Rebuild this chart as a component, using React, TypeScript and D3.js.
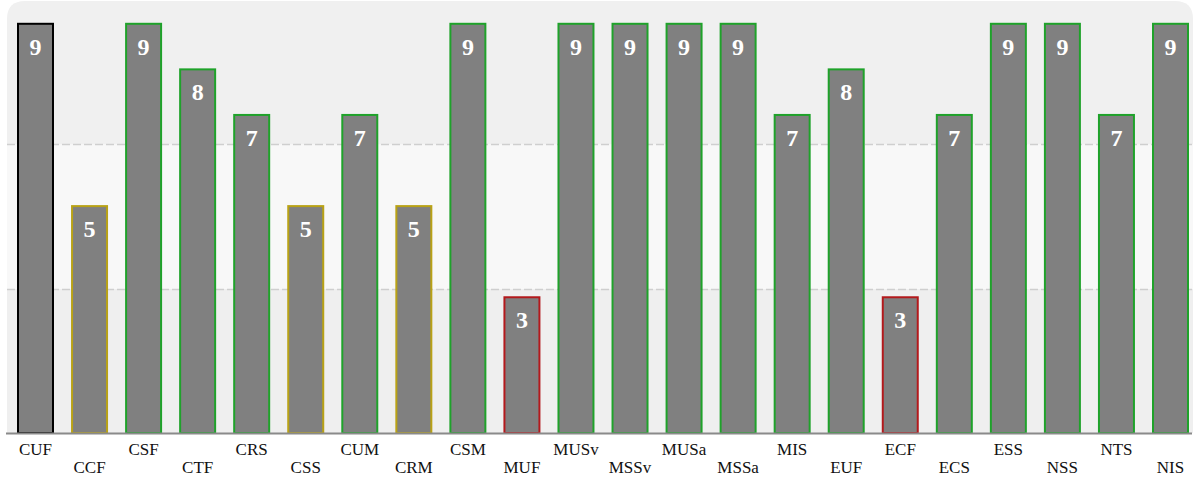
import React from "react";
import * as d3 from "d3";

const categories = [
  "CUF", "CCF", "CSF", "CTF", "CRS", "CSS", "CUM", "CRM", "CSM", "MUF", "MUSv",
  "MSSv", "MUSa", "MSSa", "MIS", "EUF", "ECF", "ECS", "ESS", "NSS", "NTS", "NIS",
];
const scores = [9, 5, 9, 8, 7, 5, 7, 5, 9, 3, 9, 9, 9, 9, 7, 8, 3, 7, 9, 9, 7, 9];
// Outline grade for each bar; the first bar is the selected one.
const grades = [
  "selected", "fair", "good", "good", "good", "fair", "good", "fair", "good", "poor", "good",
  "good", "good", "good", "good", "good", "poor", "good", "good", "good", "good", "good",
];
const scoreMax = 9.5;
const bandEdges = [0, scoreMax / 3, (2 * scoreMax) / 3, scoreMax];

const W = 1195;
const H = 477;
const plotLeft = 7;
const plotRight = 1193;
const plotTop = 0;
const plotBottom = 433;

const gradeColor: Record<string, string> = {
  selected: "#000000",
  good: "#1fa22a",
  fair: "#b9a216",
  poor: "#b3191c",
};
const bandFill = ["#efefef", "#f8f8f8", "#f0f0f0"];

export default function App() {
  const x = d3
    .scaleBand<string>()
    .domain(categories)
    .range([17, 1189])
    .paddingInner(0.3155)
    .paddingOuter(0);
  const y = d3.scaleLinear().domain([0, scoreMax]).range([plotBottom, plotTop]);

  const r = 18;
  const bgTop = 1;
  const clipPath = `M${plotLeft},${plotBottom} V${bgTop + r} Q${plotLeft},${bgTop} ${plotLeft + r},${bgTop} H${plotRight - r} Q${plotRight},${bgTop} ${plotRight},${bgTop + r} V${plotBottom} Z`;

  const serif = "'Liberation Serif', 'DejaVu Serif', 'Times New Roman', serif";

  return (
    <svg
      width={W}
      height={H}
      style={{ position: "absolute", left: 0, top: 0, background: "#ffffff" }}
    >
      <defs>
        <clipPath id="plot-clip">
          <path d={clipPath} />
        </clipPath>
      </defs>
      <g clipPath="url(#plot-clip)">
        {bandEdges.slice(0, -1).map((lo, i) => {
          const hi = bandEdges[i + 1];
          return (
            <rect
              key={i}
              x={plotLeft}
              width={plotRight - plotLeft}
              y={y(hi)}
              height={y(lo) - y(hi)}
              fill={bandFill[i]}
            />
          );
        })}
      </g>
      {bandEdges.slice(1, -1).map((v, i) => (
        <line
          key={i}
          x1={plotLeft}
          x2={plotRight}
          y1={Math.round(y(v)) + 0.5}
          y2={Math.round(y(v)) + 0.5}
          stroke="#cfcfcf"
          strokeWidth={1.5}
          strokeDasharray="8 3"
        />
      ))}
      {categories.map((c, i) => {
        const x0 = x(c)!;
        const bw = x.bandwidth();
        const top = y(scores[i]);
        return (
          <g key={c}>
            <rect
              x={x0 + 1}
              y={top + 1}
              width={bw - 2}
              height={plotBottom - top - 1}
              fill="#808080"
              stroke={gradeColor[grades[i]]}
              strokeWidth={2}
            />
            <text
              x={x0 + bw / 2}
              y={top + 32}
              textAnchor="middle"
              fill="#ffffff"
              fontFamily={serif}
              fontWeight="bold"
              fontSize={24}
            >
              {scores[i]}
            </text>
            <text
              x={x0 + bw / 2}
              y={i % 2 === 0 ? 455 : 473}
              textAnchor="middle"
              fill="#111111"
              fontFamily={serif}
              fontSize={17}
            >
              {c}
            </text>
          </g>
        );
      })}
      <line
        x1={plotLeft - 1}
        x2={plotRight - 1}
        y1={plotBottom + 0.5}
        y2={plotBottom + 0.5}
        stroke="#8a8a8a"
        strokeWidth={2}
      />
    </svg>
  );
}
